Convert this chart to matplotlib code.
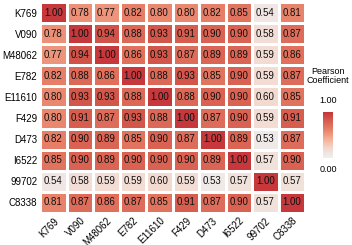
import numpy as np
import matplotlib
matplotlib.use('Agg')
import matplotlib.pyplot as plt
from matplotlib.colors import LinearSegmentedColormap

plt.rcParams['font.family'] = ['Liberation Sans', 'DejaVu Sans']

labels = ['K769', 'V090', 'M48062', 'E782', 'E11610', 'F429', 'D473', 'I6522', '99702', 'C8338']
r_k769 = [1.00, 0.78, 0.77, 0.82, 0.80, 0.80, 0.82, 0.85, 0.54, 0.81]
r_v090 = [0.78, 1.00, 0.94, 0.88, 0.93, 0.91, 0.90, 0.90, 0.58, 0.87]
r_m48062 = [0.77, 0.94, 1.00, 0.86, 0.93, 0.87, 0.89, 0.89, 0.59, 0.86]
r_e782 = [0.82, 0.88, 0.86, 1.00, 0.88, 0.93, 0.85, 0.90, 0.59, 0.87]
r_e11610 = [0.80, 0.93, 0.93, 0.88, 1.00, 0.88, 0.90, 0.90, 0.60, 0.85]
r_f429 = [0.80, 0.91, 0.87, 0.93, 0.88, 1.00, 0.87, 0.90, 0.59, 0.91]
r_d473 = [0.82, 0.90, 0.89, 0.85, 0.90, 0.87, 1.00, 0.89, 0.53, 0.87]
r_i6522 = [0.85, 0.90, 0.89, 0.90, 0.90, 0.90, 0.89, 1.00, 0.57, 0.90]
r_99702 = [0.54, 0.58, 0.59, 0.59, 0.60, 0.59, 0.53, 0.57, 1.00, 0.57]
r_c8338 = [0.81, 0.87, 0.86, 0.87, 0.85, 0.91, 0.87, 0.90, 0.57, 1.00]

M = np.array([r_k769, r_v090, r_m48062, r_e782, r_e11610,
              r_f429, r_d473, r_i6522, r_99702, r_c8338])

cmap = LinearSegmentedColormap.from_list(
    'pc', ['#eef0f2', '#f3d9cf', '#f5b096', '#e8826a', '#d65c4d', '#c23038'])
vmin, vmax = 0.5, 1.02

fig = plt.figure(figsize=(3.52, 2.45), dpi=100)
ax = fig.add_axes([0.114, 0.131, 0.753, 0.861])
n = len(labels)
ax.pcolormesh(M, cmap=cmap, vmin=vmin, vmax=vmax, edgecolor='white', linewidth=0.8)
ax.set_xlim(0, n)
ax.set_ylim(n, 0)
for i in range(n):
    for j in range(n):
        ax.text(j + 0.5, i + 0.5, '%.2f' % M[i, j], ha='center', va='center',
                fontsize=7, color='#111111')
ax.set_xticks(np.arange(n) + 0.5)
ax.set_yticks(np.arange(n) + 0.5)
ax.set_xticklabels(labels, rotation=45, ha='right', va='top',
                   rotation_mode='anchor', fontsize=7)
ax.set_yticklabels(labels, fontsize=7)
ax.tick_params(length=0, pad=2)
for s in ax.spines.values():
    s.set_visible(False)

cax = fig.add_axes([0.918, 0.355, 0.028, 0.188])
grad = np.linspace(vmin, vmax, 256).reshape(-1, 1)
cax.imshow(grad, cmap=cmap, vmin=vmin, vmax=vmax, aspect='auto', origin='lower')
cax.set_xticks([])
cax.set_yticks([])
for s in cax.spines.values():
    s.set_visible(False)
fig.text(0.932, 0.69, 'Pearson\nCoefficient', ha='center', va='center',
         fontsize=6.5, linespacing=1.0)
fig.text(0.932, 0.59, '1.00', ha='center', va='center', fontsize=6.5)
fig.text(0.932, 0.31, '0.00', ha='center', va='center', fontsize=6.5)

fig.savefig('out.png', dpi=100)
